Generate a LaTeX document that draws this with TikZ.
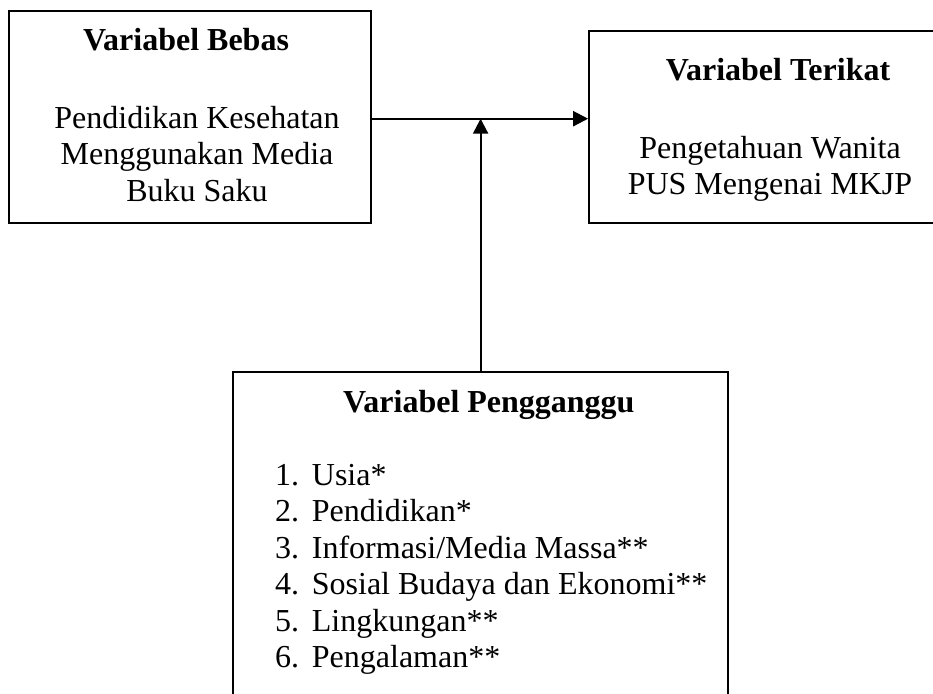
\documentclass[tikz,border=0pt]{standalone}
\usepackage{fontspec}
\setmainfont{Liberation Serif}
\usetikzlibrary{arrows.meta}
\begin{document}
\begin{tikzpicture}[x=1pt,y=-1pt,
  box/.style={draw, line width=1.8pt, rectangle, inner sep=0pt},
  txt/.style={inner sep=0pt, font=\fontsize{32pt}{36.8pt}\selectfont},
  ttl/.style={inner sep=0pt, font=\fontsize{32pt}{36.8pt}\selectfont\bfseries},
  arr/.style={line width=2.2pt, -{Triangle[length=15pt,width=15pt]}}]
\clip (0,0) rectangle (933,693);
\fill[white] (0,0) rectangle (933,693);
% boxes
\node[box, minimum width=362pt, minimum height=211.7pt] (lb) at (190,116.85) {};
\node[box, minimum width=362pt, minimum height=192pt] (rb) at (770,126.7) {};
\node[box, minimum width=494.6pt, minimum height=348pt] (bb) at (480.6,546) {};
% left box text
\node[ttl, anchor=base] (lbt) at (186,50) {Variabel Bebas};
\node[txt, anchor=base] (lb1) at (197,128) {Pendidikan Kesehatan};
\node[txt, anchor=base] (lb2) at (197,164.8) {Menggunakan Media};
\node[txt, anchor=base] (lb3) at (197,201.6) {Buku Saku};
% right box text
\node[ttl, anchor=base] (rbt) at (778,81) {Variabel Terikat};
\node[txt, anchor=base] (rb1) at (770,158) {Pengetahuan Wanita};
\node[txt, anchor=base] (rb2) at (770,194.8) {PUS Mengenai MKJP};
% bottom box text
\node[ttl, anchor=base west] (bbt) at (343,412.7) {Variabel Pengganggu};
\node[txt, anchor=base west] (n1) at (275,485) {1.};
\node[txt, anchor=base west] (t1) at (311.7,485) {Usia*};
\node[txt, anchor=base west] (n2) at (275,521.5) {2.};
\node[txt, anchor=base west] (t2) at (311.7,521.5) {Pendidikan*};
\node[txt, anchor=base west] (n3) at (275,558) {3.};
\node[txt, anchor=base west] (t3) at (311.7,558) {Informasi/Media Massa**};
\node[txt, anchor=base west] (n4) at (275,594.5) {4.};
\node[txt, anchor=base west] (t4) at (311.7,594.5) {Sosial Budaya dan Ekonomi**};
\node[txt, anchor=base west] (n5) at (275,631) {5.};
\node[txt, anchor=base west] (t5) at (311.7,631) {Lingkungan**};
\node[txt, anchor=base west] (n6) at (275,667.5) {6.};
\node[txt, anchor=base west] (t6) at (311.7,667.5) {Pengalaman**};
% connectors
\coordinate (ay) at (0,118.7);
\draw[arr] (lb.east |- ay) -- (rb.west |- ay);
\draw[arr] (bb.north) -- (bb.north |- ay);
\end{tikzpicture}
\end{document}
